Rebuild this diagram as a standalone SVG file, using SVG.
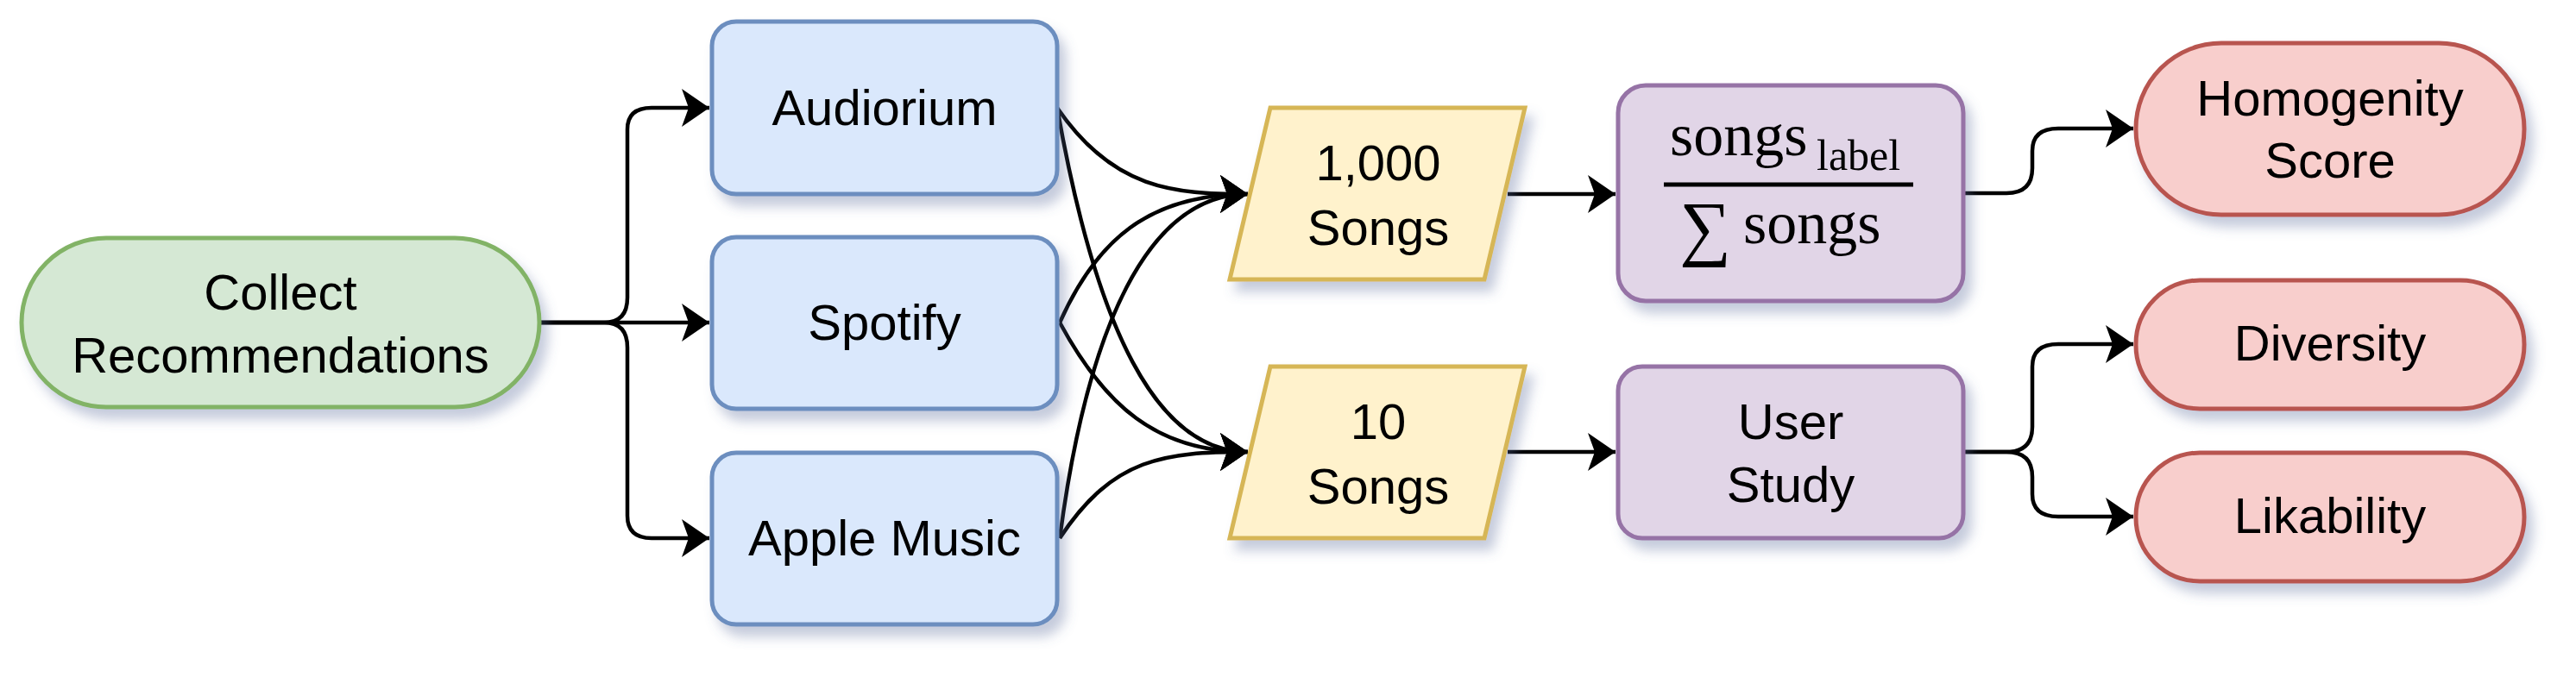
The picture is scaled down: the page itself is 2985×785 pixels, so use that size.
<svg xmlns="http://www.w3.org/2000/svg" width="2985" height="785" viewBox="0 0 2985 785">
<style>
.t{font-family:"Liberation Sans",Arial,sans-serif;font-size:58px;fill:#000;text-anchor:middle}
.m{font-family:"Liberation Serif","DejaVu Serif",serif;fill:#000}
.n{stroke-width:5}
.c{fill:none;stroke:#000;stroke-width:4.5}
</style>
<defs>
<filter id="sh" x="-20%" y="-20%" width="150%" height="160%"><feDropShadow dx="8" dy="12" stdDeviation="7" flood-color="#5a6a9a" flood-opacity="0.35"/></filter>
<marker id="a" markerUnits="userSpaceOnUse" markerWidth="40" markerHeight="50" viewBox="-2 -25 40 50" refX="32" refY="0" orient="auto"><path d="M0,-22 L32,0 L0,22 L8,0 Z" fill="#000"/></marker>
</defs>
<g id="connectors">
<path class="c" d="M625,374 H700 Q727,374 727,345 V150 Q727,125 755,125 H822" marker-end="url(#a)"/>
<path class="c" d="M625,374 H822" marker-end="url(#a)"/>
<path class="c" d="M625,374 H700 Q727,374 727,403 V598 Q727,624 755,624 H822" marker-end="url(#a)"/>
<path class="c" d="M1225,125 C1290,220 1360,225 1446,225" marker-end="url(#a)"/>
<path class="c" d="M1225,125 C1270,380 1340,524 1446,524" marker-end="url(#a)"/>
<path class="c" d="M1228,374 C1270,280 1330,225 1446,225" marker-end="url(#a)"/>
<path class="c" d="M1228,374 C1280,470 1340,524 1446,524" marker-end="url(#a)"/>
<path class="c" d="M1228,624 C1260,380 1330,225 1446,225" marker-end="url(#a)"/>
<path class="c" d="M1228,624 C1290,530 1350,524 1446,524" marker-end="url(#a)"/>
<path class="c" d="M1747,225 H1872" marker-end="url(#a)"/>
<path class="c" d="M1747,524 H1872" marker-end="url(#a)"/>
<path class="c" d="M2275,224 H2325 Q2355,224 2355,195 V175 Q2355,149 2385,149 H2472" marker-end="url(#a)"/>
<path class="c" d="M2275,524 H2325 Q2355,524 2355,495 V425 Q2355,399 2385,399 H2472" marker-end="url(#a)"/>
<path class="c" d="M2275,524 H2325 Q2355,524 2355,553 V573 Q2355,599 2385,599 H2472" marker-end="url(#a)"/>
</g>
<g id="collect" filter="url(#sh)"><rect class="n" x="25" y="276" width="600" height="196" rx="98" fill="#d5e8d4" stroke="#82b366"/><text class="t" x="325" y="359">Collect</text><text class="t" x="325" y="432">Recommendations</text></g>
<g id="audiorium" filter="url(#sh)"><rect class="n" x="825" y="25" width="400" height="200" rx="28" fill="#dae8fc" stroke="#6c8ebf"/><text class="t" x="1025" y="145">Audiorium</text></g>
<g id="spotify" filter="url(#sh)"><rect class="n" x="825" y="275" width="400" height="199" rx="28" fill="#dae8fc" stroke="#6c8ebf"/><text class="t" x="1025" y="394">Spotify</text></g>
<g id="apple" filter="url(#sh)"><rect class="n" x="825" y="525" width="400" height="199" rx="28" fill="#dae8fc" stroke="#6c8ebf"/><text class="t" x="1025" y="644">Apple Music</text></g>
<g id="songs1000" filter="url(#sh)"><path class="n" d="M1472,125 H1767 L1720,324 H1425 Z" fill="#fff2cc" stroke="#d6b656"/><text class="t" x="1597" y="209">1,000</text><text class="t" x="1597" y="284">Songs</text></g>
<g id="songs10" filter="url(#sh)"><path class="n" d="M1472,425 H1767 L1720,624 H1425 Z" fill="#fff2cc" stroke="#d6b656"/><text class="t" x="1597" y="509">10</text><text class="t" x="1597" y="584">Songs</text></g>
<g id="formula" filter="url(#sh)"><rect class="n" x="1875" y="99" width="400" height="250" rx="32" fill="#e1d5e7" stroke="#9673a6"/>
<text class="m" x="1935" y="180" font-size="70">songs</text><text class="m" x="2105" y="197" font-size="50">label</text>
<line x1="1928" y1="214" x2="2217" y2="214" stroke="#000" stroke-width="5"/>
<text class="m" x="1946" y="292" font-size="84">∑</text><text class="m" x="2020" y="282" font-size="70">songs</text></g>
<g id="userstudy" filter="url(#sh)"><rect class="n" x="1875" y="425" width="400" height="199" rx="28" fill="#e1d5e7" stroke="#9673a6"/><text class="t" x="2075" y="509">User</text><text class="t" x="2075" y="582">Study</text></g>
<g id="homogenity" filter="url(#sh)"><rect class="n" x="2475" y="50" width="450" height="199" rx="99" fill="#f8cecc" stroke="#b85450"/><text class="t" x="2700" y="134">Homogenity</text><text class="t" x="2700" y="206">Score</text></g>
<g id="diversity" filter="url(#sh)"><rect class="n" x="2475" y="325" width="450" height="149" rx="74" fill="#f8cecc" stroke="#b85450"/><text class="t" x="2700" y="418">Diversity</text></g>
<g id="likability" filter="url(#sh)"><rect class="n" x="2475" y="525" width="450" height="149" rx="74" fill="#f8cecc" stroke="#b85450"/><text class="t" x="2700" y="618">Likability</text></g>
</svg>
